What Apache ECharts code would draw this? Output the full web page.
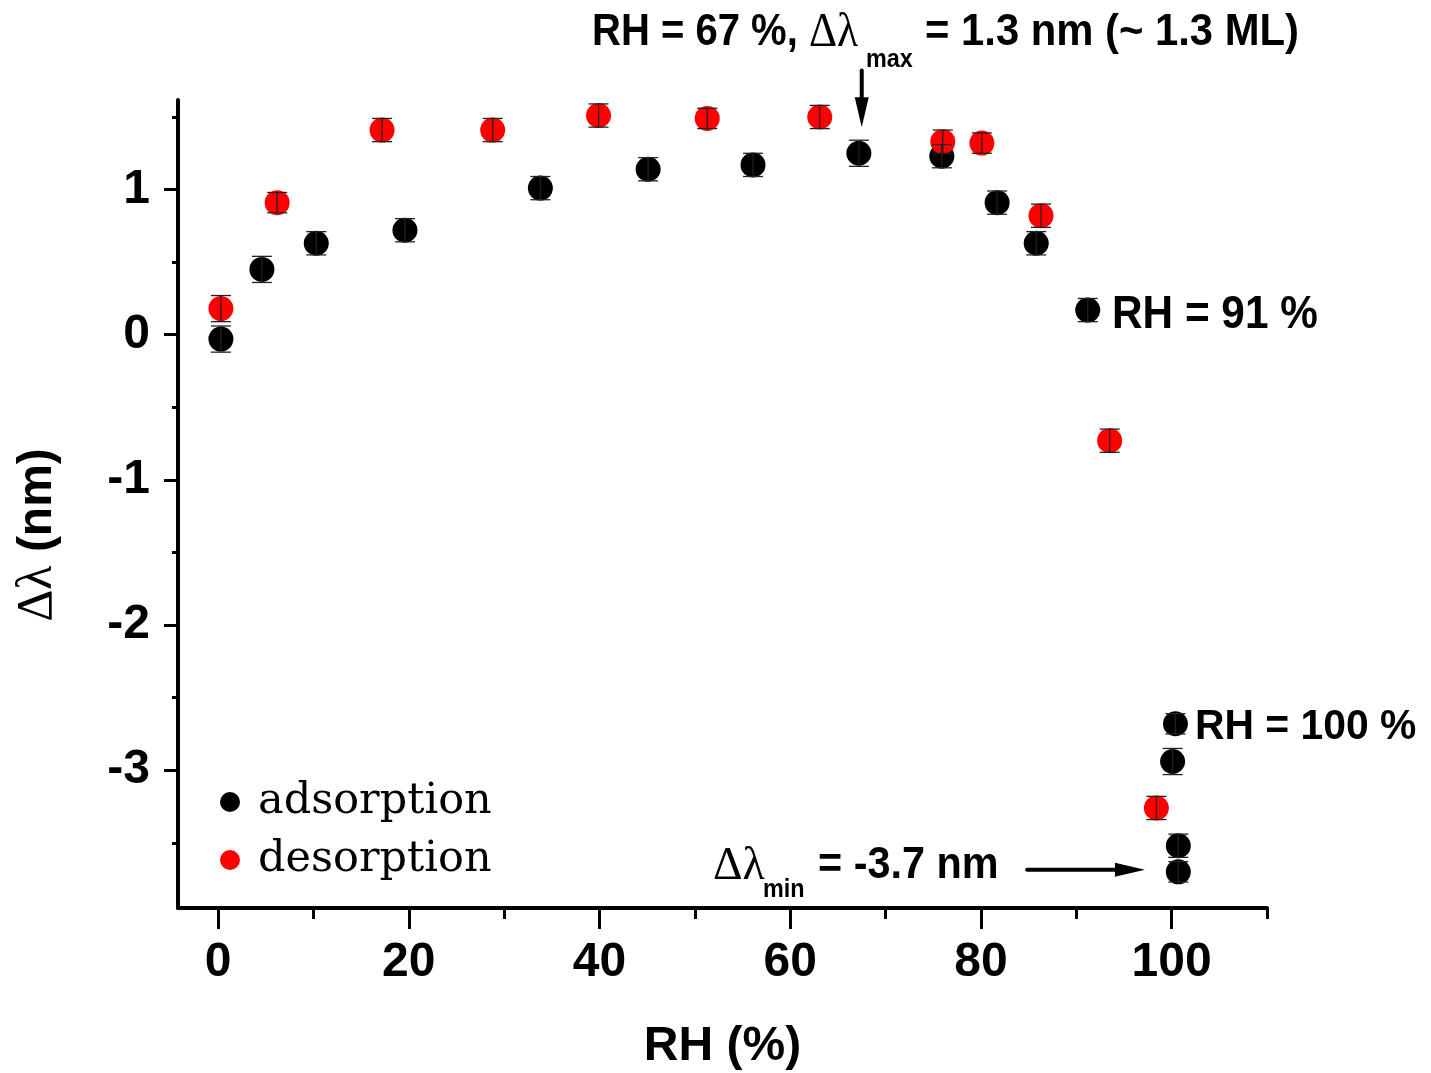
<!DOCTYPE html>
<html><head><meta charset="utf-8">
<script src="https://cdn.jsdelivr.net/npm/echarts@6/dist/echarts.min.js"></script>
<style>html,body{margin:0;padding:0;background:#fff}#c{width:1431px;height:1073px}</style>
</head><body><div id="c"></div>
<script>
// ---- data ----
const adsRH    = [0.3, 4.6, 10.3, 19.6, 33.8, 45.1, 56.1, 67.2, 75.9, 81.7, 85.8, 91.2, 100.4, 100.1, 100.7, 100.7];
const adsShift = [-0.03, 0.45, 0.63, 0.72, 1.01, 1.14, 1.17, 1.25, 1.23, 0.91, 0.63, 0.17, -2.68, -2.94, -3.52, -3.70];
const adsErr   = [0.09, 0.09, 0.08, 0.08, 0.08, 0.08, 0.08, 0.09, 0.08, 0.08, 0.08, 0.08, 0.07, 0.09, 0.08, 0.07];

const desRH    = [0.3, 6.2, 17.2, 28.8, 39.9, 51.3, 63.1, 76.0, 80.1, 86.3, 93.5, 98.4];
const desShift = [0.18, 0.91, 1.41, 1.41, 1.51, 1.49, 1.50, 1.33, 1.32, 0.82, -0.73, -3.26];
const desErr   = [0.09, 0.07, 0.08, 0.08, 0.08, 0.07, 0.08, 0.08, 0.07, 0.08, 0.08, 0.08];

const xMajorTicks = [0, 20, 40, 60, 80, 100];
const xMinorTicks = [10, 30, 50, 70, 90, 110];
const yMajorTicks = [-3, -2, -1, 0, 1];
const yMinorTicks = [-3.5, -2.5, -1.5, -0.5, 0.5, 1.5];

// annotation arrows in data coordinates
const arrowMax = {from: [67.5, 1.82], to: [67.5, 1.43]};
const arrowMin = {from: [84.85, -3.685], to: [97.2, -3.685]};

const SANS = "'Liberation Sans', Arial, sans-serif";
const SERIF = "'Liberation Serif', 'Times New Roman', serif";

const chart = echarts.init(document.getElementById('c'), null, {renderer: 'canvas'});

function errRender(params, api) {
  const x = api.value(0), lo = api.value(1), hi = api.value(2);
  const pLo = api.coord([x, lo]), pHi = api.coord([x, hi]);
  const hw = 10;
  const st = {stroke: '#222', lineWidth: 1.3};
  return {type: 'group', children: [
    {type: 'line', shape: {x1: pLo[0], y1: pLo[1], x2: pHi[0], y2: pHi[1]}, style: st},
    {type: 'line', shape: {x1: pHi[0] - hw, y1: pHi[1], x2: pHi[0] + hw, y2: pHi[1]}, style: st},
    {type: 'line', shape: {x1: pLo[0] - hw, y1: pLo[1], x2: pLo[0] + hw, y2: pLo[1]}, style: st}
  ]};
}

const axisLabelStyle = {fontFamily: SANS, fontWeight: 'bold', fontSize: 48, color: '#000'};

const option = {
  animation: false,
  backgroundColor: '#fff',
  grid: {left: 178, right: 164, top: 100, bottom: 165, containLabel: false, outerBoundsMode: 'none'},
  xAxis: [
    {type: 'value', min: -4.2, max: 110, position: 'bottom',
     axisLine: {show: true, onZero: false, lineStyle: {color: '#000', width: 4}},
     axisTick: {show: true, customValues: xMajorTicks, length: 21, lineStyle: {color: '#000', width: 3}},
     axisLabel: Object.assign({customValues: xMajorTicks, margin: 31}, axisLabelStyle),
     splitLine: {show: false},
     name: 'RH (%)', nameLocation: 'middle', nameGap: 115,
     nameTextStyle: {fontFamily: SANS, fontWeight: 'bold', fontSize: 48, color: '#000'}},
    {type: 'value', min: -4.2, max: 110, position: 'bottom',
     axisLine: {show: false, onZero: false},
     axisTick: {show: true, customValues: xMinorTicks, length: 11, lineStyle: {color: '#000', width: 3}},
     axisLabel: {show: false}, splitLine: {show: false}}
  ],
  yAxis: [
    {type: 'value', min: -3.949, max: 1.617, position: 'left',
     axisLine: {show: true, onZero: false, lineStyle: {color: '#000', width: 4}},
     axisTick: {show: true, customValues: yMajorTicks, length: 14, lineStyle: {color: '#000', width: 3}},
     axisLabel: Object.assign({customValues: yMajorTicks, margin: 28}, axisLabelStyle),
     splitLine: {show: false}},
    {type: 'value', min: -3.949, max: 1.617, position: 'left',
     axisLine: {show: false, onZero: false},
     axisTick: {show: true, customValues: yMinorTicks, length: 6, lineStyle: {color: '#000', width: 3}},
     axisLabel: {show: false}, splitLine: {show: false}}
  ],
  legend: {
    data: ['adsorption', 'desorption'], orient: 'vertical', left: 215, top: 773,
    itemWidth: 20, itemHeight: 20, itemGap: 10, icon: 'circle', selectedMode: false,
    textStyle: {fontFamily: "'DejaVu Serif', serif", fontSize: 43, color: '#000', lineHeight: 48, padding: [0, 0, 0, 13]}
  },
  series: [
    {name: 'adsorption', type: 'scatter', symbol: 'circle', symbolSize: 25,
     itemStyle: {color: '#000', opacity: 1}, z: 2,
     data: adsRH.map((x, i) => [x, adsShift[i]])},
    {name: 'desorption', type: 'scatter', symbol: 'circle', symbolSize: 25,
     itemStyle: {color: '#ff0000', opacity: 1}, z: 2,
     data: desRH.map((x, i) => [x, desShift[i]])},
    {name: 'adsErr', type: 'custom', renderItem: errRender, z: 3,
     encode: {x: 0, y: [1, 2]},
     data: adsRH.map((x, i) => [x, adsShift[i] - adsErr[i], adsShift[i] + adsErr[i]])},
    {name: 'desErr', type: 'custom', renderItem: errRender, z: 3,
     encode: {x: 0, y: [1, 2]},
     data: desRH.map((x, i) => [x, desShift[i] - desErr[i], desShift[i] + desErr[i]])}
  ]
};
chart.setOption(option);

function arrowGraphic(a) {
  const p0 = chart.convertToPixel({xAxisIndex: 0, yAxisIndex: 0}, a.from);
  const p1 = chart.convertToPixel({xAxisIndex: 0, yAxisIndex: 0}, a.to);
  const dx = p1[0] - p0[0], dy = p1[1] - p0[1];
  const L = Math.sqrt(dx * dx + dy * dy), ux = dx / L, uy = dy / L;
  const headLen = 30, headHalf = 7;
  const bx = p1[0] - ux * headLen, by = p1[1] - uy * headLen;
  return [
    {type: 'line', shape: {x1: p0[0], y1: p0[1], x2: bx + ux * 2, y2: by + uy * 2},
     style: {stroke: '#000', lineWidth: 4, lineCap: 'round'}, z: 10},
    {type: 'polygon', shape: {points: [[p1[0], p1[1]], [bx - uy * headHalf, by + ux * headHalf], [bx + uy * headHalf, by - ux * headHalf]]},
     style: {fill: '#000'}, z: 10}
  ];
}

function txt(x, y, text, size, sx, extra) {
  return Object.assign({type: 'text', x: x, y: y, scaleX: sx, z: 10,
    style: {text: text, font: 'bold ' + size + 'px ' + SANS, fill: '#000', align: 'left', verticalAlign: 'middle'}}, extra || {});
}

const graphics = [].concat(
  arrowGraphic(arrowMax),
  arrowGraphic(arrowMin),
  [
    {type: 'text', x: 592, y: 33, scaleX: 0.91, z: 10,
     style: {text: '{b|RH = 67 %, }{s|Δλ}', fill: '#000', align: 'left', verticalAlign: 'middle',
       rich: {b: {font: 'bold 44px ' + SANS, fill: '#000'}, s: {font: '48px ' + SERIF, fill: '#000'}}}},
    txt(866, 60, 'max', 26, 0.9),
    txt(925, 33, '= 1.3 nm (~ 1.3 ML)', 44, 0.95),
    txt(1112, 315, 'RH = 91 %', 46, 0.92),
    txt(1195, 727, 'RH = 100 %', 43, 0.95),
    {type: 'text', x: 713, y: 867, z: 10,
     style: {text: 'Δλ', font: '46px ' + SERIF, fill: '#000', align: 'left', verticalAlign: 'middle'}},
    txt(763, 890, 'min', 26, 0.9),
    txt(818, 866, '= -3.7 nm', 44, 0.94),
    {type: 'text', x: 38, y: 535, rotation: Math.PI / 2, z: 10,
     style: {text: '{s|Δλ}{b| (nm)}', fill: '#000', align: 'center', verticalAlign: 'middle',
       rich: {b: {font: 'bold 48px ' + SANS, fill: '#000'}, s: {font: '50px ' + SERIF, fill: '#000'}}}}
  ]
);
chart.setOption({graphic: graphics});
</script>
</body></html>
